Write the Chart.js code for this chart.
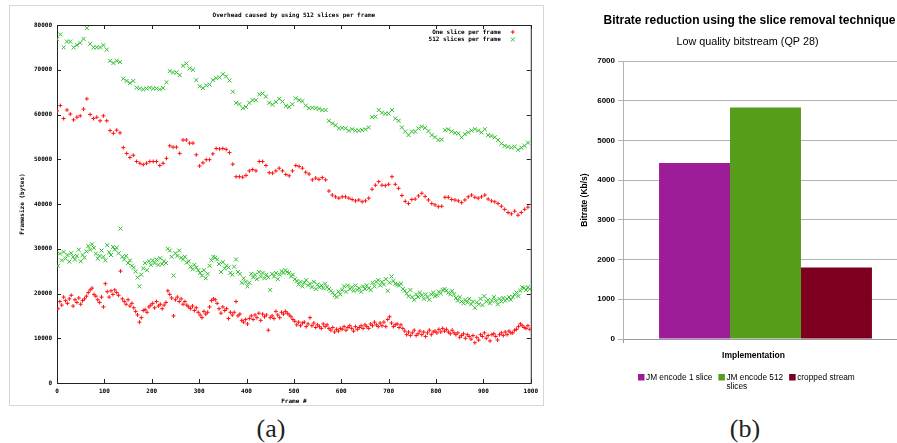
<!DOCTYPE html>
<html>
<head>
<meta charset="utf-8">
<script src="https://cdn.jsdelivr.net/npm/chart.js@4.4.0/dist/chart.umd.min.js"></script>
<style>
  html, body { margin: 0; padding: 0; background: #fff; width: 897px; height: 443px; overflow: hidden; }
  body { position: relative; }
  #panelA { position: absolute; left: 9px; top: 5px; width: 533px; height: 399px; border: 1px solid #d6d6d6; }
  #panelB { position: absolute; left: 570px; top: 0; width: 358px; height: 400px; }
  .caption { position: absolute; top: 414px; width: 60px; text-align: center; line-height: 28px;
             font: 26px "Liberation Serif", serif; color: #222; }
</style>
</head>
<body>
<div id="panelA"><canvas id="chartA"></canvas></div>
<div id="panelB"><canvas id="chartB"></canvas></div>
<div class="caption" style="left:241px">(a)</div>
<div class="caption" style="left:715px">(b)</div>

<script>
// ---------- (a) frame sizes, values in thousands of bytes ----------
// intra frames (upper band): one every 7 frames starting at frame 0
const INTRA_STEP = 7;
// predicted frames (lower band): sampled every 4 frames starting at frame 2
const INTER_FIRST = 2;
const INTER_STEP = 4;

const oneSliceIntra = [
  60.8, 62.0, 59.1, 61.0, 60.1, 58.8, 59.4, 59.7, 61.2, 63.5,
  60.0, 59.1, 59.4, 58.6, 59.7, 58.6, 56.4, 55.8, 56.5, 55.9,
  52.6, 51.3, 50.4, 50.9, 49.5, 49.1, 48.8, 49.1, 49.5, 49.5,
  49.5, 48.6, 49.1, 50.2, 53.0, 52.7, 52.7, 51.3, 54.3, 54.3,
  53.6, 53.6, 51.0, 48.5, 49.2, 49.9, 49.9, 51.2, 52.4, 52.3,
  52.4, 52.2, 51.5, 48.9, 46.1, 46.1, 46.0, 46.4, 47.4, 47.7,
  47.4, 49.5, 49.5, 48.6, 47.0, 46.9, 47.4, 48.0, 47.4, 46.6,
  46.3, 47.4, 48.6, 48.4, 48.0, 47.1, 46.7, 45.4, 45.8, 45.5,
  45.9, 45.4, 42.9, 42.0, 41.6, 41.3, 41.6, 41.6, 41.3, 41.0,
  40.7, 40.9, 40.5, 40.7, 41.3, 43.3, 44.2, 45.0, 44.2, 44.1,
  44.4, 46.1, 44.4, 43.5, 41.9, 40.6, 40.1, 41.0, 41.1, 41.8,
  42.4, 41.7, 40.9, 40.1, 39.8, 39.4, 39.5, 41.5, 41.5, 41.0,
  40.9, 40.7, 40.3, 40.9, 41.6, 42.0, 41.5, 41.3, 41.6, 42.0,
  41.1, 40.7, 40.5, 40.1, 39.5, 38.8, 38.1, 37.8, 38.4, 37.5,
  38.1, 38.8, 39.3
];

const slices512Intra = [
  76.8, 77.9, 75.0, 76.3, 76.3, 75.0, 75.5, 76.0, 76.9, 79.3,
  75.8, 75.0, 75.0, 75.0, 75.5, 74.5, 72.0, 71.5, 72.0, 71.7,
  68.0, 67.5, 67.0, 67.5, 66.0, 65.8, 65.6, 65.8, 66.0, 65.8,
  65.8, 65.6, 65.9, 67.2, 69.7, 69.4, 69.4, 68.8, 70.9, 71.4,
  70.3, 70.0, 67.7, 66.3, 65.9, 66.5, 66.7, 67.7, 68.1, 68.3,
  69.0, 68.5, 67.6, 65.1, 62.6, 62.3, 61.4, 61.7, 62.6, 63.2,
  63.2, 64.5, 64.7, 64.0, 62.6, 62.2, 62.8, 63.5, 62.9, 61.9,
  61.7, 62.3, 63.6, 63.2, 63.0, 62.0, 61.4, 61.5, 61.4, 61.3,
  61.0, 61.0, 58.6, 58.0, 57.6, 56.9, 57.0, 56.9, 56.4, 56.7,
  56.4, 56.4, 56.5, 56.7, 57.1, 59.4, 59.5, 61.0, 60.4, 60.2,
  60.2, 61.0, 59.1, 58.6, 57.1, 56.2, 55.4, 56.2, 56.2, 56.9,
  57.3, 57.0, 56.3, 55.4, 54.9, 54.3, 54.4, 56.5, 56.7, 56.2,
  55.9, 55.8, 54.9, 55.6, 56.0, 56.4, 56.7, 56.4, 56.0, 56.7,
  55.4, 55.2, 54.9, 54.3, 53.5, 53.0, 52.8, 52.6, 52.8, 52.1,
  52.6, 53.0, 53.7
];

const oneSliceInter = [
  16.6, 18.2, 17.4, 19.2, 18.4, 17.8, 18.8, 19.6, 17.2, 18.6,
  18.0, 19.0, 17.6, 18.4, 18.8, 19.4, 20.2, 20.8, 21.2, 19.8,
  19.4, 18.6, 18.0, 19.2, 17.0, 22.2, 20.4, 19.2, 20.6, 19.8,
  20.8, 20.2, 19.6, 25.0, 18.8, 18.2, 17.6, 18.6, 17.2, 17.8,
  16.8, 16.0, 15.2, 13.6, 14.6, 16.2, 16.4, 15.8, 17.0, 17.4,
  17.8, 16.8, 18.2, 17.2, 17.6, 16.6, 17.4, 18.0, 20.6, 19.8,
  19.0, 15.0, 18.6, 19.2, 18.2, 18.8, 17.6, 18.2, 17.4, 17.0,
  16.6, 17.2, 16.2, 16.8, 15.8, 15.2, 14.6, 16.0, 15.4, 15.8,
  17.0, 18.4, 18.8, 18.6, 17.8, 16.6, 15.6, 17.0, 16.2, 16.6,
  14.4, 15.8, 15.2, 15.8, 18.2, 15.0, 15.4, 14.0, 13.6, 14.2,
  13.2, 14.4, 15.0, 14.2, 15.2, 14.6, 15.6, 14.0, 15.4, 14.8,
  15.2, 11.8, 14.6, 15.0, 14.4, 16.0, 15.2, 14.6, 15.8, 15.4,
  16.0, 15.6, 15.2, 14.8, 14.2, 13.8, 13.0, 13.6, 12.8, 13.4,
  13.6, 12.6, 13.2, 14.6, 12.8, 13.4, 12.4, 13.0, 12.6, 12.2,
  13.2, 12.6, 13.0, 12.2, 11.8, 12.4, 11.4, 12.0, 11.6, 12.2,
  12.0, 12.6, 11.8, 12.4, 12.8, 12.2, 11.6, 12.6, 12.0, 12.4,
  12.8, 12.2, 13.0, 12.6, 12.2, 13.2, 12.8, 13.6, 13.0, 12.6,
  13.4, 12.8, 13.6, 12.6, 14.2, 14.8, 13.4, 12.6, 13.0, 13.2,
  12.4, 13.0, 12.2, 11.6, 10.8, 11.4, 10.6, 11.2, 11.8, 10.6,
  11.0, 11.6, 10.8, 11.4, 10.4, 11.2, 11.8, 10.8, 11.4, 11.6,
  11.2, 12.0, 11.4, 12.2, 11.6, 12.0, 11.4, 11.0, 11.8, 11.2,
  10.8, 11.2, 10.2, 10.6, 11.0, 10.0, 10.8, 10.4, 9.8, 10.6,
  9.0, 10.2, 9.6, 10.8, 10.4, 11.2, 10.0, 10.6, 9.4, 10.8,
  11.0, 10.4, 9.6, 10.8, 11.2, 10.6, 11.4, 10.8, 11.6, 11.2,
  11.2, 11.8, 12.0, 12.6, 13.2, 12.8, 12.4, 12.2, 12.8, 12.0
];

const slices512Inter = [
  26.2, 28.9, 27.4, 29.3, 27.8, 28.6, 27.1, 29.0, 28.2, 27.6,
  28.4, 29.8, 27.2, 28.6, 28.0, 29.4, 30.6, 29.8, 31.0, 30.2,
  28.9, 27.8, 28.4, 29.6, 28.2, 27.4, 30.8, 29.2, 28.6, 30.4,
  29.8, 30.2, 29.0, 34.5, 28.2, 27.6, 28.4, 26.8, 27.4, 26.2,
  25.8, 24.9, 23.6, 21.6, 24.2, 25.6, 26.8, 25.2, 27.2, 26.4,
  27.4, 26.8, 27.6, 26.4, 27.9, 26.6, 27.2, 26.8, 30.0, 29.6,
  28.2, 24.0, 29.0, 28.4, 29.6, 28.0, 27.6, 28.2, 26.9, 27.2,
  26.0, 25.4, 26.4, 25.8, 25.2, 24.6, 24.0, 25.2, 23.4, 24.4,
  26.2, 27.4, 28.2, 28.0, 27.6, 26.6, 24.8, 27.0, 25.6, 26.2,
  25.8, 24.6, 24.2, 26.0, 27.6, 24.8, 24.4, 22.4, 23.4, 22.6,
  21.6, 22.4, 24.4, 23.6, 24.2, 23.2, 24.8, 23.8, 24.6, 23.4,
  24.2, 23.6, 20.8, 24.4, 23.8, 24.6, 23.2, 24.2, 25.0, 24.6,
  25.2, 24.8, 24.6, 23.8, 24.2, 23.2, 22.8, 22.0, 22.6, 21.6,
  22.4, 23.0, 21.8, 22.2, 21.4, 22.6, 21.0, 22.0, 21.4, 21.8,
  21.2, 22.2, 21.4, 21.0, 20.6, 20.2, 19.6, 19.2, 20.4, 19.8,
  20.8, 21.6, 20.4, 21.8, 21.0, 21.4, 20.6, 21.8, 20.8, 21.2,
  20.4, 21.6, 21.0, 21.8, 21.2, 20.8, 22.4, 21.6, 22.6, 23.0,
  21.8, 22.6, 22.0, 23.2, 20.6, 22.4, 23.8, 22.8, 22.2, 22.0,
  21.8, 22.2, 21.0, 20.6, 20.0, 19.4, 20.8, 19.2, 18.6, 19.8,
  19.2, 20.2, 19.6, 18.8, 19.8, 19.2, 18.6, 19.8, 20.2, 19.4,
  19.6, 20.4, 20.0, 20.8, 21.0, 20.6, 20.2, 19.8, 20.6, 19.8,
  19.0, 18.4, 19.2, 18.2, 17.8, 18.6, 18.0, 18.8, 17.6, 18.2,
  16.8, 18.0, 17.6, 18.8, 17.4, 19.4, 18.2, 18.6, 17.8, 18.4,
  19.2, 18.4, 17.6, 18.8, 18.2, 19.0, 18.4, 18.8, 19.2, 18.6,
  19.2, 19.8, 20.2, 19.4, 20.6, 21.4, 21.2, 20.8, 21.4, 21.0
];

const frameTicks = [0, 100, 200, 300, 400, 500, 600, 700, 800, 900, 1000];
const sizeTicks = [0, 10000, 20000, 30000, 40000, 50000, 60000, 70000, 80000];
const titleA = 'Overhead caused by using 512 slices per frame';

// ---------- (b) bitrates ----------
const implLabels = ['JM encode 1 slice', 'JM encode 512 slices', 'cropped stream'];
const implBitrates = [4430, 5830, 1800];
const bitrateTicks = [0, 1000, 2000, 3000, 4000, 5000, 6000, 7000];
const titleB = 'Bitrate reduction using the slice removal technique';
const subtitleB = 'Low quality bitstream (QP 28)';

const MONO = '"DejaVu Sans Mono", monospace';
const SANS = '"Liberation Sans", Arial, sans-serif';
const monoBold = { family: MONO, size: 6, weight: 'bold' };
Chart.defaults.font.family = SANS;
Chart.defaults.color = '#000';

const toPoints = (intra, inter) => {
  const pts = [];
  intra.forEach((v, i) => pts.push({ x: i * INTRA_STEP, y: v * 1000 }));
  inter.forEach((v, i) => pts.push({ x: INTER_FIRST + i * INTER_STEP, y: v * 1000 }));
  return pts;
};

const drawMarker = (ctx, style, x, y, r) => {
  ctx.beginPath();
  if (style === 'cross') {
    ctx.moveTo(x - r, y); ctx.lineTo(x + r, y);
    ctx.moveTo(x, y - r); ctx.lineTo(x, y + r);
  } else {
    const d = r * Math.SQRT1_2;
    ctx.moveTo(x - d, y - d); ctx.lineTo(x + d, y + d);
    ctx.moveTo(x - d, y + d); ctx.lineTo(x + d, y - d);
  }
  ctx.stroke();
};

// gnuplot style: title over the plot, border, inward ticks on all sides, key top right
const gnuplotFrame = {
  id: 'gnuplotFrame',
  beforeDatasetsDraw(chart) {
    const { ctx, chartArea: a, scales: { x, y } } = chart;
    ctx.save();
    ctx.strokeStyle = '#222';
    ctx.lineWidth = 1;
    ctx.strokeRect(a.left + 0.5, a.top + 0.5, a.right - a.left, a.bottom - a.top);
    ctx.beginPath();
    x.ticks.forEach(t => {
      const px = Math.round(x.getPixelForValue(t.value)) + 0.5;
      ctx.moveTo(px, a.bottom); ctx.lineTo(px, a.bottom - 4);
      ctx.moveTo(px, a.top); ctx.lineTo(px, a.top + 4);
    });
    y.ticks.forEach(t => {
      const py = Math.round(y.getPixelForValue(t.value)) + 0.5;
      ctx.moveTo(a.left, py); ctx.lineTo(a.left + 4, py);
      ctx.moveTo(a.right, py); ctx.lineTo(a.right - 4, py);
    });
    ctx.stroke();
    ctx.restore();
  },
  afterDraw(chart) {
    const { ctx, chartArea: a } = chart;
    ctx.save();
    ctx.font = 'bold 6px ' + MONO;
    ctx.fillStyle = '#000';
    ctx.textBaseline = 'middle';
    ctx.textAlign = 'center';
    ctx.fillText(titleA, (a.left + a.right) / 2, a.top - 9.5);
    ctx.textAlign = 'right';
    chart.data.datasets.forEach((ds, i) => {
      const y = a.top + 7 + i * 7.5;
      ctx.fillStyle = '#000';
      ctx.fillText(ds.label, a.right - 30, y);
      ctx.strokeStyle = ds.borderColor;
      ctx.lineWidth = 1;
      drawMarker(ctx, ds.pointStyle, a.right - 18, y, ds.pointStyle === 'cross' ? 2 : 2.8);
    });
    ctx.restore();
  }
};

new Chart(document.getElementById('chartA'), {
  type: 'scatter',
  data: {
    datasets: [
      {
        label: 'One slice per frame',
        data: toPoints(oneSliceIntra, oneSliceInter),
        pointStyle: 'cross', pointRadius: 2, borderWidth: 1,
        borderColor: '#ff1010', backgroundColor: '#ff1010'
      },
      {
        label: '512 slices per frame',
        data: toPoints(slices512Intra, slices512Inter),
        pointStyle: 'crossRot', pointRadius: 2.8, borderWidth: 1,
        borderColor: '#2cbf2c', backgroundColor: '#2cbf2c'
      }
    ]
  },
  options: {
    animation: false,
    responsive: true,
    maintainAspectRatio: false,
    layout: { padding: { left: 0, right: 6, top: 19, bottom: 0 } },
    plugins: {
      legend: { display: false },
      tooltip: { enabled: false },
      title: { display: false }
    },
    scales: {
      x: {
        type: 'linear', min: 0, max: 1000,
        afterBuildTicks: s => { s.ticks = frameTicks.map(v => ({ value: v })); },
        afterFit: s => { s.height = 22; },
        grid: { display: false, drawTicks: false },
        border: { display: false },
        ticks: { font: monoBold, color: '#000', padding: 5, maxRotation: 0, callback: v => String(v) },
        title: { display: true, text: 'Frame #', font: monoBold, color: '#000', padding: 0 }
      },
      y: {
        type: 'linear', min: 0, max: 80000,
        afterBuildTicks: s => { s.ticks = sizeTicks.map(v => ({ value: v })); },
        afterFit: s => { s.width = 47; },
        grid: { display: false, drawTicks: false },
        border: { display: false },
        ticks: { font: monoBold, color: '#000', padding: 5, callback: v => String(v) },
        title: { display: true, text: 'Framesize (bytes)', font: monoBold, color: '#000', padding: { top: 9, bottom: 0 } }
      }
    }
  },
  plugins: [gnuplotFrame]
});

// titles, x-axis title and legend of the bar chart
const officeText = {
  id: 'officeText',
  afterDraw(chart) {
    const { ctx } = chart;
    ctx.save();
    ctx.fillStyle = '#000';
    ctx.textBaseline = 'middle';
    ctx.textAlign = 'center';
    ctx.font = 'bold 12px ' + SANS;
    ctx.fillText(titleB, 179.5, 21);
    ctx.font = '10.8px ' + SANS;
    ctx.fillText(subtitleB, 177.5, 42);
    ctx.font = 'bold 8.5px ' + SANS;
    ctx.fillText('Implementation', 183.5, 356);
    ctx.textAlign = 'left';
    ctx.font = '8.3px ' + SANS;
    let x = 68;
    chart.data.datasets.forEach(ds => {
      const words = ds.label.split(' ');
      const lines = [];
      let cur = '';
      words.forEach(w => {
        const t = cur ? cur + ' ' + w : w;
        if (cur && ctx.measureText(t).width > 72) { lines.push(cur); cur = w; } else { cur = t; }
      });
      lines.push(cur);
      ctx.fillStyle = ds.backgroundColor;
      ctx.fillRect(x, 374, 6.5, 6.5);
      ctx.fillStyle = '#000';
      let w = 0;
      lines.forEach((l, i) => {
        ctx.fillText(l, x + 8, 377.5 + i * 9);
        w = Math.max(w, ctx.measureText(l).width);
      });
      x += 8 + w + 6;
    });
    ctx.restore();
  }
};

const barColors = ['#9d1c97', '#579d1c', '#7e0021'];

new Chart(document.getElementById('chartB'), {
  type: 'bar',
  data: {
    labels: [''],
    datasets: implLabels.map((label, i) => ({
      label,
      data: [implBitrates[i]],
      backgroundColor: barColors[i],
      borderWidth: 0,
      categoryPercentage: 0.747,
      barPercentage: 1.0
    }))
  },
  options: {
    animation: false,
    responsive: true,
    maintainAspectRatio: false,
    layout: { padding: { left: 0, right: 20, top: 61, bottom: 0 } },
    plugins: {
      legend: { display: false },
      tooltip: { enabled: false },
      title: { display: false }
    },
    scales: {
      x: {
        afterFit: s => { s.height = 61; },
        grid: { drawOnChartArea: false, drawTicks: true, tickLength: 4, color: '#9a9a9a' },
        border: { color: '#9a9a9a' },
        ticks: { display: false }
      },
      y: {
        min: 0, max: 7000,
        afterBuildTicks: s => { s.ticks = bitrateTicks.map(v => ({ value: v })); },
        afterFit: s => { s.width = 53; },
        grid: { color: '#b3b3b3', tickLength: 5 },
        border: { color: '#b3b3b3' },
        ticks: { font: { size: 8, weight: 'bold' }, color: '#000', padding: 3, callback: v => String(v) },
        title: { display: true, text: 'Bitrate (Kb/s)', font: { size: 8.5, weight: 'bold' }, color: '#000', padding: { top: 10, bottom: 0 } }
      }
    }
  },
  plugins: [officeText]
});
</script>
</body>
</html>
